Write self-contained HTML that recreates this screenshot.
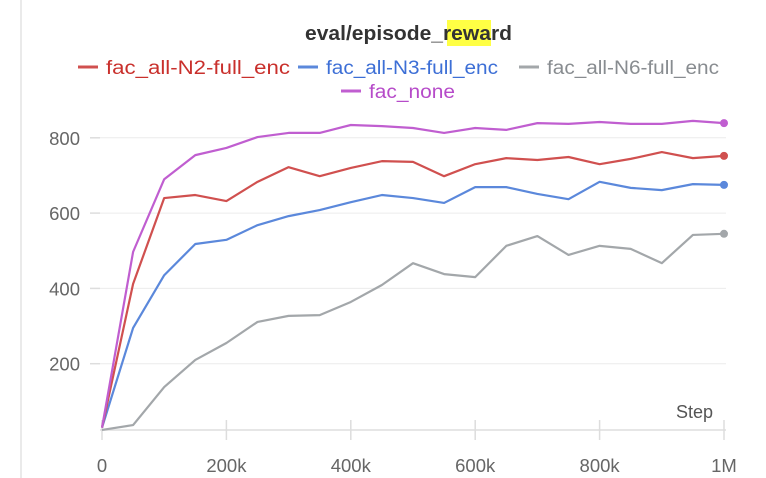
<!DOCTYPE html>
<html><head><style>
body{margin:0;background:#fff;width:766px;height:478px;overflow:hidden;font-family:"Liberation Sans",sans-serif;position:relative}
</style></head><body>
<div style="position:absolute;left:447px;top:20px;width:44px;height:26px;background:#ffff44"></div>
<svg width="766" height="478" style="position:absolute;left:0;top:0">
<line x1="21" y1="0" x2="21" y2="478" stroke="#e4e4e4" stroke-width="1.5"/>
<g id="grid"></g><g id="axes"></g><g id="series"></g>
<text x="305" y="40" font-size="20" font-weight="bold" fill="#333" textLength="207" lengthAdjust="spacingAndGlyphs">eval/episode_reward</text>
<g id="legend"></g>
<text x="713" y="418" text-anchor="end" font-size="18" fill="#555">Step</text>
</svg>
<script>
const steps=[0,50,100,150,200,250,300,350,400,450,500,550,600,650,700,750,800,850,900,950,1000];
const n2=[30,412,640,648,632,683,722,698,720,738,736,698,730,746,741,749,730,744,762,746,752];
const n3=[30,295,435,518,529,568,592,608,629,648,640,627,669,669,651,637,683,667,661,677,675];
const n6=[24,37,138,210,255,311,327,329,364,409,467,438,430,513,539,489,513,505,467,542,545];
const none=[30,497,690,754,773,802,813,813,834,831,826,813,826,821,839,837,842,837,837,845,839];
const yTicks=[200,400,600,800];
const xTicks=[0,200,400,600,800,1000];
const xTickLabels=["0","200k","400k","600k","800k","1M"];
const names=["fac_all-N2-full_enc","fac_all-N3-full_enc","fac_all-N6-full_enc","fac_none"];
const colors=["#d0504f","#5b88db","#a3a7aa","#c05ed0"];
const textColors=["#c9302c","#3d6fd6","#888c90","#b64bc9"];
const X=v=>102+v*0.622, Y=v=>439-v*0.3765;
const NS="http://www.w3.org/2000/svg";
function mk(t,a,p){const e=document.createElementNS(NS,t);for(const k in a)e.setAttribute(k,a[k]);p.appendChild(e);return e;}
const g=document.getElementById('grid'),ax=document.getElementById('axes'),s=document.getElementById('series'),lg=document.getElementById('legend');
yTicks.forEach(v=>{
 const l=mk('line',{x1:100,x2:726,y1:Y(v),y2:Y(v),stroke:'#ececec'},g);
 
 
 const tk=mk('line',{x1:90,x2:100,y1:Y(v),y2:Y(v),stroke:'#ddd','stroke-width':1.5},ax);
 
 
 const t=mk('text',{x:80,y:Y(v)+7,'text-anchor':'end','font-size':18.5,fill:'#666'},ax);t.textContent=v;
 
 
});
const base=mk('line',{x1:100,x2:726,y1:430,y2:430,stroke:'#ddd','stroke-width':1.5},ax);


xTicks.forEach((v,i)=>{
 const tk=mk('line',{x1:X(v),x2:X(v),y1:420,y2:440,stroke:'#ddd','stroke-width':1.5},ax);
 
 
 const t=mk('text',{x:X(v),y:472,'text-anchor':'middle','font-size':18.5,fill:'#666'},ax);t.textContent=xTickLabels[i];
 
 
});
[n6,n3,n2,none].forEach((d,k)=>{
 const idx=[2,1,0,3][k];
 const p=mk('polyline',{points:d.map((v,i)=>X(steps[i])+','+Y(v)).join(' '),fill:'none',stroke:colors[idx],'stroke-width':2.2,'stroke-linejoin':'round'},s);
 
 
 const c=mk('circle',{cx:X(steps[steps.length-1]),cy:Y(d[d.length-1]),r:4,fill:colors[idx]},s);
 
 
});
const lx=[78,298,519,341],ly=[74,74,74,98],lw=[184,172,172,86];
names.forEach((n,i)=>{
 const l=mk('line',{x1:lx[i],x2:lx[i]+20,y1:ly[i]-7,y2:ly[i]-7,stroke:colors[i],'stroke-width':3},lg);
 
 
 const t=mk('text',{x:lx[i]+28,y:ly[i],'font-size':19,fill:textColors[i],textLength:lw[i],lengthAdjust:'spacingAndGlyphs'},lg);t.textContent=n;
 
 
});
</script>
</body></html>
